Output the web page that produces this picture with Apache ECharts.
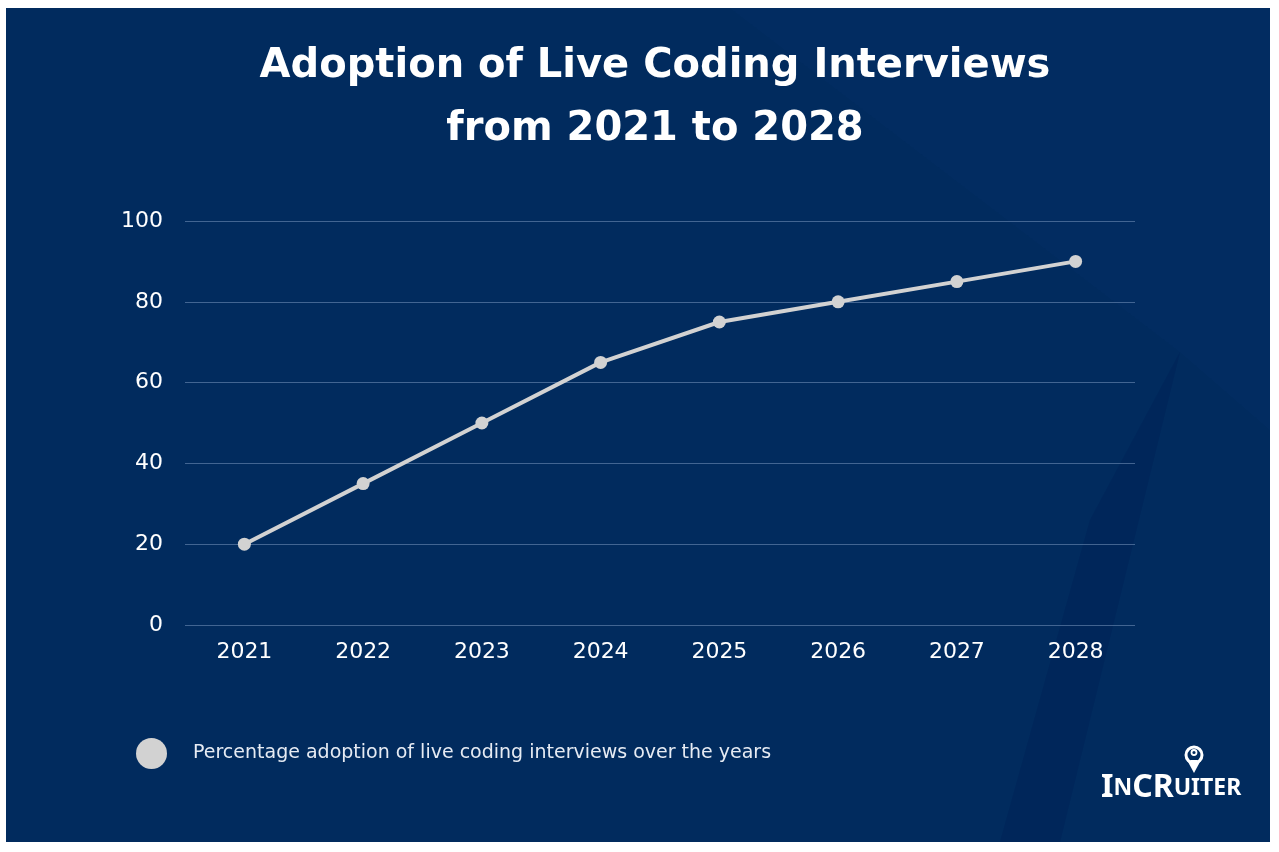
<!DOCTYPE html>
<html>
<head>
<meta charset="utf-8">
<script src="https://cdn.jsdelivr.net/npm/echarts@6/dist/echarts.min.js"></script>
<style>
html,body{margin:0;padding:0;background:#ffffff;}
#chart{width:1279px;height:852px;}
</style>
</head>
<body>
<div id="chart"></div>
<script>
const years = ['2021','2022','2023','2024','2025','2026','2027','2028'];
const adoption = [20, 35, 50, 65, 75, 80, 85, 90];
const seriesName = 'Percentage adoption of live coding interviews over the years';
const titleText = 'Adoption of Live Coding Interviews\nfrom 2021 to 2028';

const chart = echarts.init(document.getElementById('chart'));
const font = 'DejaVu Sans';
chart.setOption({
  backgroundColor: '#ffffff',
  animation: false,
  graphic: [
    { type: 'rect', z: -10, shape: { x: 6, y: 8, width: 1264, height: 834 }, style: { fill: '#012b5e' } },
    { type: 'polygon', z: -9, shape: { points: [[1180,352],[1060,842],[1000,842],[1090,520]] }, style: { fill: 'rgba(0,25,80,0.25)' } },
    { type: 'polygon', z: -9, shape: { points: [[730,8],[1180,352],[1270,430],[1270,8]] }, style: { fill: 'rgba(20,60,120,0.12)' } },
    { type: 'polygon', z: 10, shape: { points: [[1187,760],[1201,760],[1194,773]] }, style: { fill: '#ffffff' } },
    { type: 'circle', z: 10, shape: { cx: 1194, cy: 755, r: 8 }, style: { fill: '#012b5e', stroke: '#ffffff', lineWidth: 3 } },
    { type: 'circle', z: 11, shape: { cx: 1194, cy: 752.5, r: 2.5 }, style: { fill: 'none', stroke: '#ffffff', lineWidth: 1.8 } },
    { type: 'polygon', z: 11, shape: { points: [[1190,760],[1198,760],[1194,766]] }, style: { fill: '#ffffff' } },
    { type: 'text', z: 10, left: 1101, top: 772,
      style: {
        text: '{b|I}{s|N}{b|CR}{s|UITER}',
        rich: {
          b: { fontFamily: 'Noto Sans', fontSize: 32, fontWeight: 'bold', fill: '#ffffff' },
          s: { fontFamily: 'Noto Sans', fontSize: 23, fontWeight: 'bold', fill: '#ffffff' }
        }
      } }
  ],
  title: {
    text: titleText,
    left: 655,
    textAlign: 'center',
    top: 35,
    padding: 0,
    textStyle: { color: '#ffffff', fontFamily: font, fontWeight: 'bold', fontSize: 40, lineHeight: 63 }
  },
  legend: {
    left: 136, top: 738, padding: 0,
    icon: 'circle', itemWidth: 31, itemHeight: 31,
    textStyle: { color: '#e6ebf3', fontFamily: font, fontSize: 19, padding: [0,0,0,21] },
    data: [seriesName]
  },
  grid: { left: 185, right: 144, top: 221, bottom: 227, containLabel: false },
  xAxis: {
    type: 'category', data: years, boundaryGap: true,
    axisLine: { show: false }, axisTick: { show: false },
    axisLabel: { color: '#ffffff', fontFamily: font, fontSize: 22, margin: 16 }
  },
  yAxis: {
    type: 'value', min: 0, max: 100, interval: 20,
    axisLine: { show: false }, axisTick: { show: false },
    axisLabel: { color: '#ffffff', fontFamily: font, fontSize: 22, margin: 22 },
    splitLine: { lineStyle: { color: 'rgba(120,150,190,0.55)', width: 1 } }
  },
  series: [{
    name: seriesName, type: 'line', data: adoption,
    symbol: 'circle', symbolSize: 13,
    lineStyle: { color: '#d2d2d2', width: 4 },
    itemStyle: { color: '#d2d2d2' }
  }]
});
</script>
</body>
</html>
